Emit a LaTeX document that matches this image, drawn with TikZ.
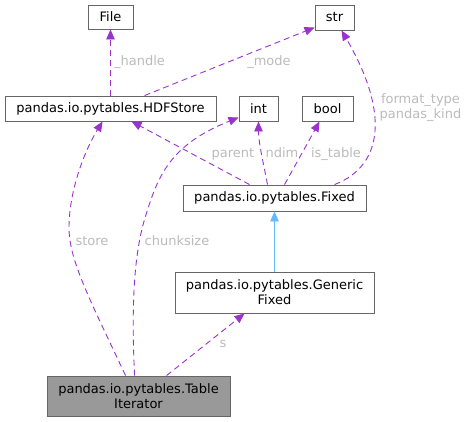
\documentclass[tikz,border=0pt]{standalone}
\usepackage{fontspec}
\setmainfont{DejaVu Sans}
\usetikzlibrary{arrows.meta,calc}
\definecolor{edgegray}{HTML}{666666}
\definecolor{tifill}{HTML}{999999}
\definecolor{relpurple}{HTML}{9A32CD}
\definecolor{inhblue}{HTML}{63B8FF}
\definecolor{lblgray}{HTML}{BBBBBB}
\begin{document}
\begin{tikzpicture}[x=1pt,y=-1pt,
  cls/.style={draw=edgegray,line width=0.9pt,fill=white,inner sep=0pt,align=center,
    font=\fontsize{13}{15}\selectfont},
  rel/.style={draw=relpurple,line width=0.9pt,dash pattern=on 6pt off 4pt,
    -{Triangle[length=10pt,width=8.5pt]},fill=none},
  inh/.style={draw=inhblue,line width=0.9pt,-{Triangle[length=10pt,width=8.5pt,fill=inhblue]}},
  lbl/.style={text=lblgray,inner sep=0pt,anchor=base,align=center,
    font=\fontsize{13}{15}\selectfont}]
\useasboundingbox (0,0) rectangle (468,421);
% classes
\node[cls,minimum width=45pt,minimum height=24pt] (file) at (110.5,17) {File};
\node[cls,minimum width=39pt,minimum height=25pt] (str) at (334.5,17.5) {str};
\node[cls,minimum width=211pt,minimum height=25pt] (hdf) at (110.5,108.5) {pandas.io.pytables.HDFStore};
\node[cls,minimum width=39pt,minimum height=25pt] (int) at (258.5,108.5) {int};
\node[cls,minimum width=51pt,minimum height=25pt] (bool) at (327.5,108.5) {bool};
\node[cls,minimum width=183pt,minimum height=26pt] (fixed) at (274.5,198) {pandas.io.pytables.Fixed};
\node[cls,minimum width=199pt,minimum height=41pt] (gf) at (274.5,292.5) {pandas.io.pytables.Generic\\Fixed};
\node[cls,fill=tifill,minimum width=183pt,minimum height=40pt] (ti) at (138.5,396) {pandas.io.pytables.Table\\Iterator};
% relations
\draw[rel] (hdf.north) -- (file.south);
\draw[rel] ($(hdf.north west)+(140,0)$) -- ($(str.south west)+(0,-3)$);
\draw[rel] ($(fixed.north west)+(67,0)$) -- ($(hdf.south west)+(127,0)$);
\draw[rel] ($(fixed.north west)+(85,0)$) .. controls ($(fixed.north west)+(80,-25)$) and ($(int.south)+(0,20)$) .. (int.south);
\draw[rel] ($(fixed.north west)+(102,0)$) -- ($(bool.south west)+(18,0)$);
\draw[rel] ($(fixed.north west)+(152,0)$) .. controls (385,165) and (388,110) .. ($(str.south west)+(27,0)$);
\draw[inh] (gf.north) -- (fixed.south);
\draw[rel] ($(ti.north west)+(79,0)$) .. controls (90,300) and (69,260) .. (69,228)
  .. controls (69,190) and (85,150) .. ($(hdf.south west)+(98,0)$);
\draw[rel] ($(ti.north west)+(88,0)$) .. controls (132,320) and (132,260) .. (145,218)
  .. controls (158,175) and (170,145) .. ($(int.south west)+(0,-4)$);
\draw[rel] ($(ti.north west)+(120,0)$) -- ($(gf.south west)+(70,0)$);
% labels
\node[lbl] (lhandle) at (139.5,65) {\_handle};
\node[lbl] (lmode) at (269,65) {\_mode};
\node[lbl] (lparent) at (233,157) {parent};
\node[lbl] (lndim) at (282,157) {ndim};
\node[lbl] (listable) at (336,157) {is\_table};
\node[lbl] (lformat) at (420.5,118) {format\_type\\pandas\_kind};
\node[lbl] (lstore) at (92,245) {store};
\node[lbl] (lchunk) at (177,245) {chunksize};
\node[lbl] (ls) at (223,347) {s};
\end{tikzpicture}
\end{document}
